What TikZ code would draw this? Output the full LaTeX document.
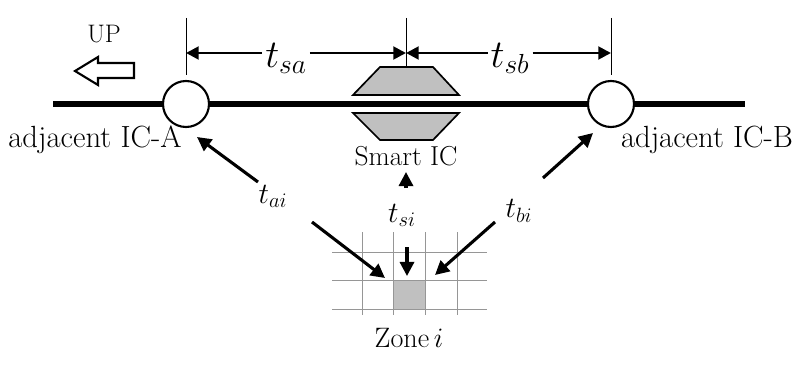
\documentclass[tikz,border=0pt]{standalone}
\usepackage{fix-cm}
\usepackage{fontspec}
\usetikzlibrary{arrows.meta,positioning}
\definecolor{rampGray}{RGB}{192,192,192}
\definecolor{gridGray}{RGB}{150,150,150}

\begin{document}
\begin{tikzpicture}[x=0.025cm,y=-0.025cm,
    road/.style={line width=4.7pt},
    ic/.style={circle,draw,line width=1.5pt,fill=white,minimum size=1.15cm,inner sep=0pt},
    tick/.style={line width=0.7pt},
    ramp/.style={fill=rampGray,draw,line width=1.2pt,line join=miter},
    dimarr/.style={line width=2pt,-{Triangle[length=9pt,width=9pt]}},
    arr/.style={line width=2.2pt,-{Triangle[length=10pt,width=10pt]}},
    lbl/.style={anchor=base,font=\fontsize{21.8}{25}\selectfont,inner sep=0pt},
    tbig/.style={anchor=base,font=\fontsize{28}{32}\selectfont,inner sep=2pt},
    tsmall/.style={anchor=base,font=\fontsize{21}{25}\selectfont,inner sep=2pt},
    gridline/.style={gridGray,line width=0.7pt}]
  \useasboundingbox (0,0) rectangle (797,374);

  % road with the two neighbouring interchanges
  \draw[road] (53,104) -- (745,104);
  \node[ic] (icA) at (186,104) {};
  \node[ic] (icB) at (611,104) {};

  % smart IC ramps
  \filldraw[ramp] (353,95) -- (459,95) -- (433,67) -- (380,67) -- cycle;
  \filldraw[ramp] (353,113) -- (459,113) -- (433,140) -- (380,140) -- cycle;

  % direction
  \filldraw[fill=white,line width=1.5pt,line join=miter]
    (75,71) -- (98,57) -- (98,63) -- (134,63) -- (134,78) -- (98,78) -- (98,85) -- cycle;
  \node[lbl,font=\fontsize{18}{21}\selectfont] (up) at (104,43) {UP};

  % extension lines
  \coordinate (aTop) at (186,18);
  \coordinate (sTop) at (406,18);
  \coordinate (bTop) at (611,18);
  \draw[tick] (aTop) -- (186,75);
  \draw[tick] (sTop) -- (406,67);
  \draw[tick] (bTop) -- (611,75);

  % travel times along the road
  \coordinate (aDim) at (186,53);
  \coordinate (sDim) at (406,53);
  \coordinate (bDim) at (611,53);
  \node[tbig] (tsa) at (286,68) {$t_{sa}$};
  \node[tbig] (tsb) at (510,68) {$t_{sb}$};
  \draw[dimarr] (tsa.west|-aDim) -- (aDim);
  \draw[dimarr] (tsa.east|-aDim) -- (sDim);
  \draw[dimarr] (tsb.west|-sDim) -- (sDim);
  \draw[dimarr] (tsb.east|-bDim) -- (bDim);

  % names
  \node[lbl] (nameA) at (95,147) {adjacent IC-A};
  \node[lbl] (nameB) at (707,147) {adjacent IC-B};
  \node[lbl,font=\fontsize{19.5}{23}\selectfont] (smart) at (406,165) {Smart IC};

  % zone grid
  \fill[rampGray] (393,280) rectangle (425,309);
  \foreach \y in {252,280,309}
    \draw[gridline] (332,\y) -- (487,\y);
  \foreach \x in {362,393,425,457}
    \draw[gridline] (\x,232) -- (\x,315);
  \node[lbl,font=\fontsize{20}{24}\selectfont] (zone) at (409,347) {Zone\,$i$};

  % travel times from the zone
  \node[tsmall] (tai) at (273,203) {$t_{ai}$};
  \node[tsmall] (tsi) at (402,222) {$t_{si}$};
  \node[tsmall] (tbi) at (519,218) {$t_{bi}$};

  \coordinate (aiUp) at (258,182);
  \coordinate (aiUpEnd) at (197,137);
  \coordinate (aiDn) at (312,222);
  \coordinate (aiDnEnd) at (385,278);
  \coordinate (siUp) at (406,188);
  \coordinate (siUpEnd) at (406,172);
  \coordinate (siDn) at (407,247);
  \coordinate (siDnEnd) at (407,276);
  \coordinate (biUp) at (543,178);
  \coordinate (biUpEnd) at (593,133);
  \coordinate (biDn) at (495,222);
  \coordinate (biDnEnd) at (435,275);

  \draw[arr] (aiUp) -- (aiUpEnd);
  \draw[arr] (aiDn) -- (aiDnEnd);
  \draw[arr] (siUp) -- (siUpEnd);
  \draw[arr] (siDn) -- (siDnEnd);
  \draw[arr] (biUp) -- (biUpEnd);
  \draw[arr] (biDn) -- (biDnEnd);
\end{tikzpicture}
\end{document}
